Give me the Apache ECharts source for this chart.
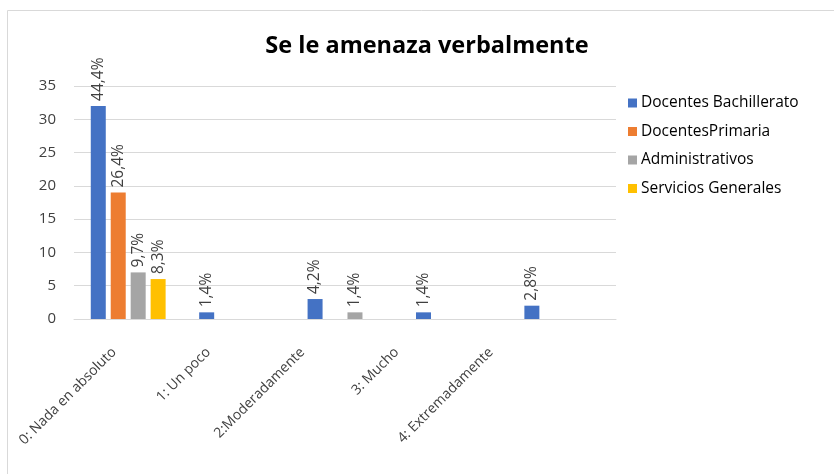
<!DOCTYPE html>
<html><head><meta charset="utf-8">
<script src="https://cdn.jsdelivr.net/npm/echarts@6/dist/echarts.min.js"></script>
<style>html,body{margin:0;padding:0;background:#fff}#c{width:834px;height:474px}</style>
</head><body><div id="c"></div>
<script>
const categories = ['0: Nada en absoluto','1: Un poco','2:Moderadamente','3: Mucho','4: Extremadamente'];
const seriesNames = ['Docentes Bachillerato','DocentesPrimaria','Administrativos','Servicios Generales'];
const bachillerato = [32, 1, 3, 1, 2];
const primaria = [19, 0, 0, 0, 0];
const administrativos = [7, 0, 1, 0, 0];
const servicios = [6, 0, 0, 0, 0];
const bachilleratoLabels = ['44,4%','1,4%','4,2%','1,4%','2,8%'];
const primariaLabels = ['26,4%','','','',''];
const administrativosLabels = ['9,7%','','1,4%','',''];
const serviciosLabels = ['8,3%','','','',''];
const yTicks = [0,5,10,15,20,25,30,35];
const colors = ['#4472c4','#ed7d31','#a5a5a5','#ffc000'];

const font = '"Open Sans", "Noto Sans", sans-serif';
function mk(name, data, labels, color){
  return {
    name, type:'bar', data, barWidth:15, barGap:'33%',
    xAxisIndex:0, yAxisIndex:0,
    itemStyle:{color},
    label:{show:true, position:'top', rotate:90, align:'left', verticalAlign:'middle', distance:5,
      color:'#404040', fontSize:15.5, fontFamily:font,
      formatter: p => labels[p.dataIndex]}
  };
}
const chart = echarts.init(document.getElementById('c'));
chart.setOption({
  animation:false,
  color: colors,
  title:{text:'Se le amenaza verbalmente', left:422, textAlign:'center', top:29,
    textStyle:{fontFamily:font, fontSize:23.5, fontWeight:'bold', color:'#000'}},
  legend:{orient:'vertical', left:623, top:90, itemWidth:9, itemHeight:9, itemGap:12.5,
    icon:'rect', data:seriesNames,
    textStyle:{fontFamily:font, fontSize:15.5, color:'#000', padding:[0,0,0,-1]}},
  grid:[
    {left:74, right:218, top:86, bottom:155, containLabel:false},
    {left:67, width:471, top:86, bottom:155, containLabel:false}
  ],
  xAxis:[
    {type:'category', data:categories, gridIndex:0,
     axisLine:{lineStyle:{color:'#d9d9d9'}}, axisTick:{show:false}, axisLabel:{show:false}},
    {type:'category', data:categories, gridIndex:1,
     axisLine:{show:false}, axisTick:{show:false}, splitLine:{show:false},
     axisLabel:{rotate:45, interval:0, color:'#404040', fontSize:14, fontFamily:font, margin:31}}
  ],
  yAxis:[
    {type:'value', gridIndex:0, min:yTicks[0], max:yTicks[yTicks.length-1], interval:5,
     axisLine:{show:false}, axisTick:{show:false},
     splitLine:{lineStyle:{color:'#d9d9d9'}},
     axisLabel:{color:'#404040', fontSize:15, fontFamily:font, margin:18}},
    {type:'value', gridIndex:1, min:0, max:35, show:false}
  ],
  graphic:[{type:'rect', shape:{x:7.5, y:10.5, width:900, height:600}, style:{fill:null, stroke:'#d9d9d9', lineWidth:1}, silent:true}],
  series:[
    mk(seriesNames[0], bachillerato, bachilleratoLabels, colors[0]),
    mk(seriesNames[1], primaria, primariaLabels, colors[1]),
    mk(seriesNames[2], administrativos, administrativosLabels, colors[2]),
    mk(seriesNames[3], servicios, serviciosLabels, colors[3])
  ]
});
</script></body></html>
